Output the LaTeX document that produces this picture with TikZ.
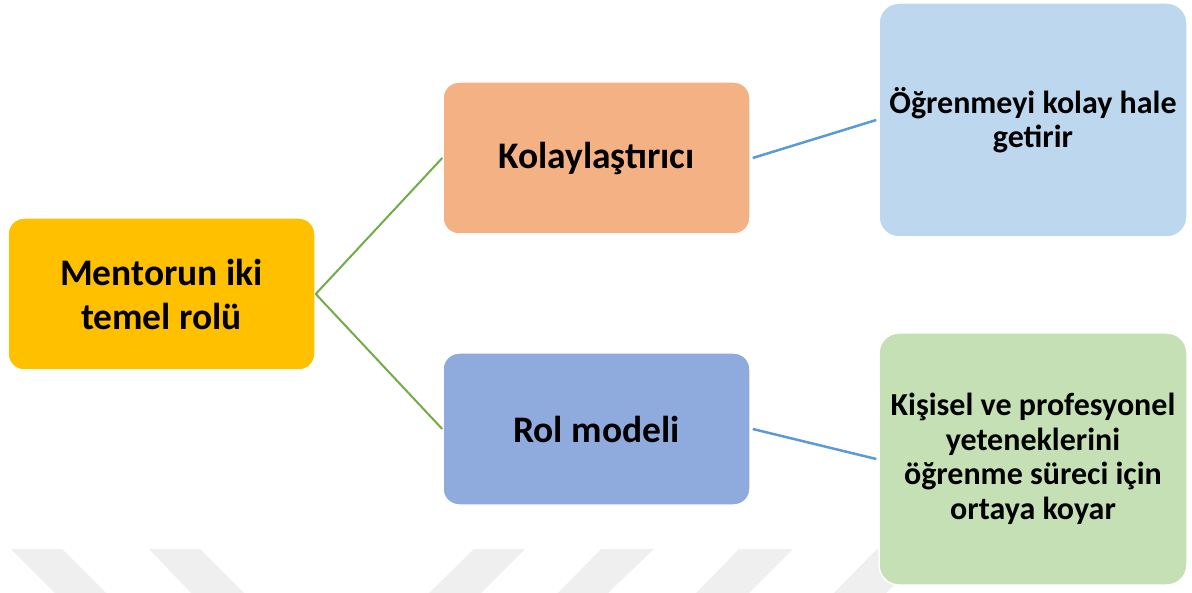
\documentclass[tikz,border=0pt]{standalone}
\usepackage{fontspec}
\setmainfont{Carlito}
\definecolor{cA}{HTML}{FFC000}
\definecolor{cB}{HTML}{F4B183}
\definecolor{cC}{HTML}{8FAADC}
\definecolor{cD}{HTML}{BDD7EE}
\definecolor{cE}{HTML}{C5E0B4}
\definecolor{lgreen}{HTML}{70AD47}
\definecolor{lblue}{HTML}{5B9BD5}
\definecolor{wm}{HTML}{EFEFEF}
\tikzset{
  box/.style={draw=white, line width=1.5pt, rounded corners=16pt, inner sep=0pt, align=center, font=\bfseries},
  midbox/.style={box, minimum width=307pt, minimum height=152pt, font=\fontsize{37.5}{44}\selectfont\bfseries},
  rightbox/.style={box, minimum width=308pt, rounded corners=20pt, font=\fontsize{32}{34.5}\selectfont\bfseries},
  gline/.style={draw=lgreen, line width=2pt},
  bline/.style={draw=lblue, line width=2.5pt},
  stripe/.style={fill=wm, draw=none}
}
\begin{document}
\begin{tikzpicture}[x=1pt,y=-1pt]
\useasboundingbox (0,0) rectangle (1192,593);
% watermark stripes
\fill[stripe] (11,549) -- (62,549) -- (106,593) -- (55,593) -- cycle;
\fill[stripe] (149,549) -- (200,549) -- (244,593) -- (191,593) -- cycle;
\fill[stripe] (474,549) -- (525,549) -- (481,593) -- (429,593) -- cycle;
\fill[stripe] (601,549) -- (654,549) -- (608,593) -- (558,593) -- cycle;
\fill[stripe] (739,549) -- (793,549) -- (749,593) -- (696,593) -- cycle;
\fill[stripe] (877,549) -- (930,549) -- (886,593) -- (834,593) -- cycle;
% nodes
\node[midbox, fill=cA] (A) at (161.5,294) {Mentorun iki\\temel rolü};
\node[midbox, fill=cB] (B) at (596.5,158) {Kolaylaştırıcı};
\node[midbox, fill=cC] (C) at (596.5,429) {Rol modeli};
\node[rightbox, fill=cD, minimum height=234pt] (D) at (1033,120) {Öğrenmeyi kolay hale\\getirir};
\node[rightbox, fill=cE, minimum height=252pt] (E) at (1033,459) {Kişisel ve profesyonel\\yeteneklerini\\öğrenme süreci için\\ortaya koyar};
% connectors
\draw[gline] (A.east) -- (B.west);
\draw[gline] (A.east) -- (C.west);
\draw[bline] ([xshift=2pt]B.east) -- ([xshift=-2pt]D.west);
\draw[bline] ([xshift=2pt]C.east) -- ([xshift=-2pt]E.west);
\end{tikzpicture}
\end{document}
